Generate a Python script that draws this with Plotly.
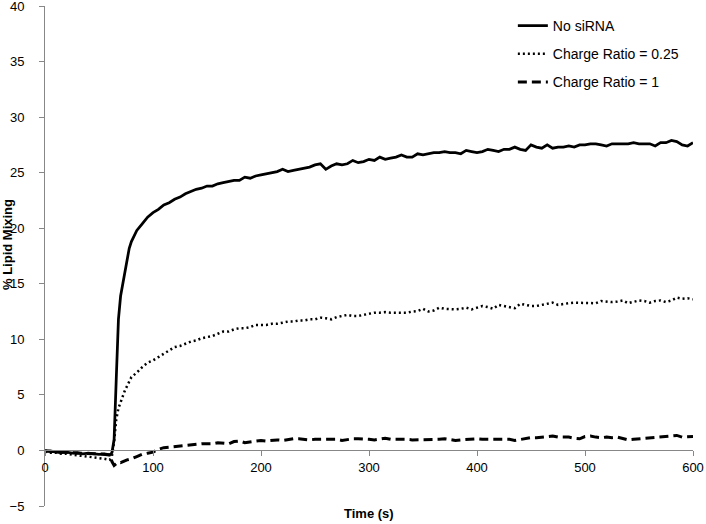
import plotly.graph_objects as go

# sampling times (s)
time_s = [
    0, 5, 10, 15, 20, 25, 30, 35, 40, 45, 50, 55, 60,
    62, 64, 66, 68, 70, 72, 74, 76, 78, 80,
    85, 90, 95, 100, 105, 110, 115, 120, 125, 130, 135, 140, 145, 150, 155,
    160, 165, 170, 175, 180, 185, 190, 195,
    200, 205, 210, 215, 220, 225, 230, 235, 240, 245, 250, 255, 260, 265,
    270, 275, 280, 285, 290, 295, 300, 305, 310, 315, 320, 325, 330, 335,
    340, 345, 350, 355, 360, 365, 370, 375, 380, 385, 390, 395, 400, 405,
    410, 415, 420, 425, 430, 435, 440, 445, 450, 455, 460, 465, 470, 475,
    480, 485, 490, 495, 500, 505, 510, 515, 520, 525, 530, 535, 540, 545,
    550, 555, 560, 565, 570, 575, 580, 585, 590, 595, 600,
]

no_sirna = [
    -0.1, -0.05, -0.15, -0.2, -0.15, -0.25, -0.2, -0.3, -0.25, -0.3, -0.35, -0.3, -0.4,
    -0.2, 1.0, 6.5, 11.8, 13.9, 15.0, 16.3, 17.3, 18.2, 18.8,
    19.8, 20.4, 21.0, 21.4, 21.7, 22.1, 22.3, 22.6, 22.8, 23.1, 23.3, 23.5, 23.6, 23.8, 23.8,
    24.0, 24.1, 24.2, 24.3, 24.3, 24.6, 24.5, 24.7,
    24.8, 24.9, 25.0, 25.1, 25.3, 25.1, 25.2, 25.3, 25.4, 25.5, 25.7, 25.8, 25.3, 25.6,
    25.8, 25.7, 25.8, 26.1, 25.9, 26.0, 26.2, 26.1, 26.4, 26.2, 26.3, 26.4, 26.6, 26.4,
    26.4, 26.7, 26.6, 26.7, 26.8, 26.8, 26.9, 26.8, 26.8, 26.7, 27.0, 26.9, 26.8, 26.9,
    27.1, 27.0, 26.9, 27.1, 27.1, 27.3, 27.1, 27.0, 27.5, 27.3, 27.2, 27.5, 27.2, 27.3,
    27.3, 27.4, 27.3, 27.5, 27.5, 27.6, 27.6, 27.5, 27.4, 27.6, 27.6, 27.6, 27.6, 27.7,
    27.6, 27.6, 27.6, 27.4, 27.7, 27.7, 27.9, 27.8, 27.5, 27.4, 27.7,
]

ratio_025 = [
    -0.1, -0.2, -0.2, -0.3, -0.3, -0.4, -0.45, -0.5, -0.55, -0.6, -0.7, -0.75, -0.85,
    -0.5, 0.8, 2.8, 3.8, 4.4, 5.0, 5.4, 5.8, 6.2, 6.6,
    7.0, 7.5, 7.9, 8.1, 8.4, 8.7, 9.0, 9.3, 9.4, 9.6, 9.8, 9.9, 10.1, 10.2, 10.3,
    10.5, 10.7, 10.7, 10.9, 11.0, 11.0, 11.1, 11.3,
    11.3, 11.3, 11.4, 11.4, 11.5, 11.6, 11.6, 11.7, 11.7, 11.8, 11.8, 11.95, 11.9, 11.8,
    12.0, 12.1, 12.2, 12.1, 12.1, 12.2, 12.3, 12.4, 12.4, 12.45, 12.4, 12.4, 12.45, 12.4,
    12.5, 12.55, 12.75, 12.5, 12.6, 12.85, 12.75, 12.7, 12.7, 12.75, 12.85, 12.7, 12.85, 13.0,
    12.9, 12.75, 13.1, 13.0, 12.9, 12.8, 13.2, 13.1, 13.0, 13.0, 13.1, 13.2, 13.3, 13.1,
    13.2, 13.25, 13.3, 13.3, 13.3, 13.3, 13.25, 13.45, 13.4, 13.35, 13.4, 13.5, 13.25, 13.4,
    13.5, 13.45, 13.3, 13.45, 13.5, 13.35, 13.5, 13.75, 13.65, 13.7, 13.6,
]

ratio_1 = [
    0.0, -0.1, -0.1, -0.15, -0.2, -0.2, -0.25, -0.25, -0.3, -0.3, -0.3, -0.35, -0.4,
    -1.0, -1.35, -1.2, -1.05, -1.1, -1.0, -0.95, -0.85, -0.8, -0.75,
    -0.55, -0.35, -0.25, -0.15, 0.1, 0.25, 0.3, 0.35, 0.4, 0.45, 0.55, 0.55, 0.6, 0.6, 0.6,
    0.7, 0.65, 0.6, 0.8, 0.85, 0.7, 0.75, 0.85,
    0.9, 0.85, 0.9, 0.95, 0.9, 1.0, 1.05, 1.05, 1.0, 0.95, 1.0, 1.0, 1.05, 1.05,
    1.0, 0.9, 1.0, 1.05, 1.05, 1.05, 1.0, 0.95, 1.05, 1.1, 1.0, 1.0, 1.05, 1.0,
    0.95, 0.95, 1.0, 0.95, 0.95, 1.0, 1.05, 1.0, 0.9, 0.95, 1.0, 1.0, 1.05, 1.0,
    1.0, 1.05, 1.05, 1.0, 1.0, 0.9, 1.0, 1.05, 1.15, 1.15, 1.2, 1.25, 1.3, 1.2,
    1.2, 1.2, 1.1, 1.05, 1.25, 1.3, 1.2, 1.15, 1.2, 1.15, 1.2, 1.1, 0.95, 1.0,
    1.05, 1.1, 1.15, 1.15, 1.2, 1.25, 1.3, 1.35, 1.2, 1.2, 1.25,
]

series = [
    ("No siRNA", no_sirna, dict(color="black", width=2.75)),
    ("Charge Ratio = 0.25", ratio_025, dict(color="black", width=2.5, dash="2px,3px")),
    ("Charge Ratio = 1", ratio_1, dict(color="black", width=3, dash="9px,5px")),
]

FONT = "Liberation Sans, Arial, sans-serif"
AXIS_GREY = "#878787"

fig = go.Figure()
for i, (name, vals, line) in enumerate(series):
    fig.add_trace(go.Scatter(
        x=time_s, y=vals, name=name, mode="lines", line=line,
        legendgroup=f"g{i}",
    ))

fig.update_xaxes(
    range=[0, 600], dtick=100, tick0=0,
    anchor="free", position=5 / 45,
    showline=True, linecolor=AXIS_GREY, linewidth=1,
    ticks="outside", ticklen=5, tickcolor=AXIS_GREY,
    showgrid=False, zeroline=False, ticklabeloverflow="allow",
    tickfont=dict(family=FONT, size=13, color="black"),
)
fig.update_yaxes(
    range=[-5, 40], dtick=5, tick0=0,
    showline=True, linecolor=AXIS_GREY, linewidth=1,
    ticks="outside", ticklen=5, tickcolor=AXIS_GREY,
    ticklabelstandoff=12, ticklabeloverflow="allow",
    showgrid=False, zeroline=False,
    tickfont=dict(family=FONT, size=13, color="black"),
)

fig.add_annotation(
    text="<b>Time (s)</b>", xref="paper", yref="paper", x=0.5, y=-0.014,
    xanchor="center", yanchor="middle", showarrow=False,
    font=dict(family=FONT, size=13, color="black"),
)
fig.add_annotation(
    text="<b>% Lipid Mixing</b>", xref="paper", yref="paper",
    x=(7 - 45) / 648, y=0.522, textangle=-90,
    xanchor="center", yanchor="middle", showarrow=False,
    font=dict(family=FONT, size=13, color="black"),
)

fig.update_layout(
    width=706, height=524,
    margin=dict(l=45, r=13, t=6, b=18, autoexpand=False),
    paper_bgcolor="white", plot_bgcolor="white",
    showlegend=True,
    legend=dict(
        x=0.722, y=0.992, xanchor="left", yanchor="top",
        font=dict(family=FONT, size=14, color="black"),
        bgcolor="rgba(0,0,0,0)", tracegroupgap=7, itemwidth=30,
    ),
)

fig.write_html(
    "out.html",
    config={"displayModeBar": False},
    post_script="document.body.style.margin='0';",
)
